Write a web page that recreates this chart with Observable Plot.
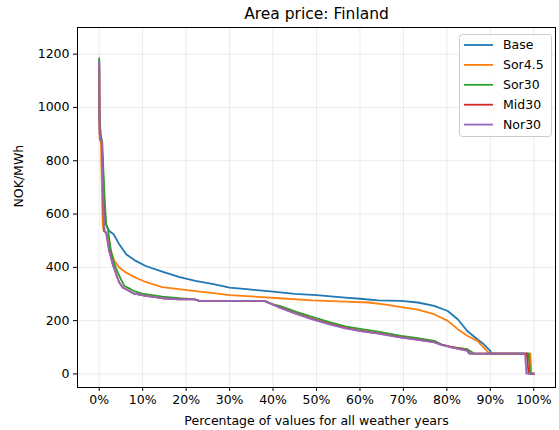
<!DOCTYPE html>
<html>
<head>
<meta charset="utf-8">
<script src="https://cdn.jsdelivr.net/npm/d3@7"></script>
<script src="https://cdn.jsdelivr.net/npm/@observablehq/plot@0.6"></script>
<style>
  html, body { margin: 0; padding: 0; background: #fff; }
  #chart { width: 559px; height: 430px; }
</style>
</head>
<body>
<div id="chart"></div>
<script>
// ---- Data (percent of values, NOK/MWh) ----
const seriesNames = ["Base", "Sor4.5", "Sor30", "Mid30", "Nor30"];
const seriesColors = ["#1f77b4", "#ff7f0e", "#2ca02c", "#d62728", "#9467bd"];

const base = [[0,1175],[0.05,1000],[0.1,960],[0.3,900],[0.5,870],[0.8,800],[1.0,700],[1.3,600],[1.6,560],[2.3,536],[3.3,524],[4.6,487],[6.2,449],[8.4,424],[10.7,405],[14.5,384],[18.3,364],[22.1,349],[26.3,337],[30,324],[33.9,318],[40,309],[45,300],[50,296],[56.6,286],[60,282],[64.2,276],[69.5,274],[73.3,268],[77.1,255],[80.2,236],[82.5,205],[84.7,161],[87,130],[88.5,111],[90,86],[90.3,76],[99.1,76],[99.3,1],[100,1]];
const sor45 = [[0,1150],[0.05,950],[0.1,880],[0.4,870],[0.6,700],[0.8,560],[1.0,536],[1.6,530],[2.0,500],[2.7,461],[3.5,424],[4.6,399],[6.2,380],[8.4,361],[10.7,345],[14.5,326],[18.3,318],[22.1,311],[26.3,303],[30,296],[33.9,292],[41.5,284],[49,276],[56.6,271],[62,268],[66,260],[69.5,251],[73.3,241],[77.1,224],[80.2,199],[82.5,168],[84.7,143],[87,124],[88.5,99],[89.6,80],[89.8,76],[99.2,76],[99.4,1],[100,1]];
const sor30 = [[0,1185],[0.05,1000],[0.1,950],[0.3,900],[0.7,870],[1.0,750],[1.3,640],[1.6,562],[2.0,543],[2.7,461],[3.5,412],[4.3,380],[5.0,355],[5.8,330],[6.9,321],[8.0,311],[9.9,301],[14.5,290],[18.3,284],[22,280],[23,274],[38,274],[39.9,261],[41.5,255],[45.2,234],[49,214],[52.8,195],[56.6,178],[60.4,168],[64.2,159],[69.5,143],[73.3,134],[77.1,124],[78.7,111],[80.9,101],[84.7,93],[85.9,80],[86.2,76],[98.8,76],[99.2,1],[100,1]];
const mid30 = [[0,1165],[0.05,950],[0.1,900],[0.3,880],[0.6,870],[0.8,750],[1.0,600],[1.2,536],[1.6,530],[2.3,461],[3.1,412],[3.9,374],[4.6,343],[5.4,324],[6.9,311],[8.0,301],[10.7,293],[14.5,284],[18.3,280],[22,280],[23,274],[38,274],[41.5,250],[45,228],[49,207],[52.8,189],[56.6,173],[60.4,161],[64.2,152],[69.5,137],[73.3,129],[77.1,119],[78.7,110],[81,101],[84.7,88],[85.3,76],[98.4,76],[98.8,1],[100,1]];
const nor30 = [[0,1170],[0.05,950],[0.1,900],[0.3,880],[0.6,870],[0.8,750],[1.0,600],[1.2,536],[1.6,530],[2.3,461],[3.1,412],[3.9,374],[4.6,343],[5.4,324],[6.9,311],[8.0,301],[10.7,293],[14.5,284],[18.3,280],[22,280],[23,274],[38,274],[41.5,249],[45,227],[49,205],[52.8,187],[56.6,171],[60.4,160],[64.2,151],[69.5,136],[73.3,128],[77.1,118],[78.7,109],[81,100],[84.7,86],[85.1,76],[98.0,76],[98.3,1],[100,1]];

const xTicks = [0,10,20,30,40,50,60,70,80,90,100];
const yTicks = [0,200,400,600,800,1000,1200];
const titleText = "Area price: Finland";
const xLabel = "Percentage of values for all weather years";
const yLabel = "NOK/MWh";

const allSeries = [base, sor45, sor30, mid30, nor30];
const rows = allSeries.flatMap((s, i) => s.map(([p, v]) => ({series: seriesNames[i], p, v})));

const font = "DejaVu Sans, sans-serif";

const lineMarks = seriesNames.map((name, i) =>
  Plot.line(rows.filter(d => d.series === name), {x: "p", y: "v", stroke: seriesColors[i], strokeWidth: 1.8, strokeLinejoin: "round"})
);

const chart = Plot.plot({
  width: 559,
  height: 430,
  marginLeft: 77,
  marginRight: 4,
  marginTop: 27,
  marginBottom: 43,
  style: {fontFamily: font, fontSize: "12.5px", color: "black", background: "white"},
  x: {domain: [-5, 105], label: null},
  y: {domain: [-51, 1300], label: null},
  marks: [
    Plot.gridX(xTicks, {stroke: "#b0b0b0", strokeOpacity: 0.3, strokeWidth: 0.8}),
    Plot.gridY(yTicks, {stroke: "#b0b0b0", strokeOpacity: 0.3, strokeWidth: 0.8}),
    ...lineMarks,
    Plot.axisX({ticks: xTicks, tickFormat: d => d + "%", tickSize: 4, tickPadding: 4, label: null, fontSize: 12.5}),
    Plot.axisY({ticks: yTicks, tickFormat: d => String(d), tickSize: 4, tickPadding: 4, label: null, fontSize: 12.5}),
    Plot.frame({stroke: "black", strokeWidth: 1}),
    Plot.text([titleText], {frameAnchor: "top", lineAnchor: "middle", dy: -13, fontSize: 15.5, fill: "black"}),
    Plot.text([xLabel], {frameAnchor: "bottom", lineAnchor: "middle", dy: 33, fontSize: 12.5, fill: "black"}),
    Plot.text([yLabel], {frameAnchor: "left", lineAnchor: "middle", dx: -59, rotate: -90, fontSize: 12.5, fill: "black"})
  ]
});

// Legend box (matplotlib-style) drawn inside the SVG
const svg = d3.select(chart);
const lg = svg.append("g").attr("font-family", font).attr("font-size", 12.5).attr("text-anchor", "start");
lg.append("rect").attr("x", 459.5).attr("y", 34.5).attr("width", 92).attr("height", 102)
  .attr("rx", 3).attr("fill", "white").attr("fill-opacity", 0.8).attr("stroke", "#cccccc").attr("stroke-width", 1);
seriesNames.forEach((name, i) => {
  const y = 45 + i * 19.9;
  lg.append("line").attr("x1", 464).attr("x2", 493).attr("y1", y).attr("y2", y)
    .attr("stroke", seriesColors[i]).attr("stroke-width", 1.8);
  lg.append("text").attr("x", 503).attr("y", y).attr("dy", "0.35em").attr("fill", "black")
    .attr("text-anchor", "start").text(name);
});

document.getElementById("chart").appendChild(chart);
</script>
</body>
</html>
